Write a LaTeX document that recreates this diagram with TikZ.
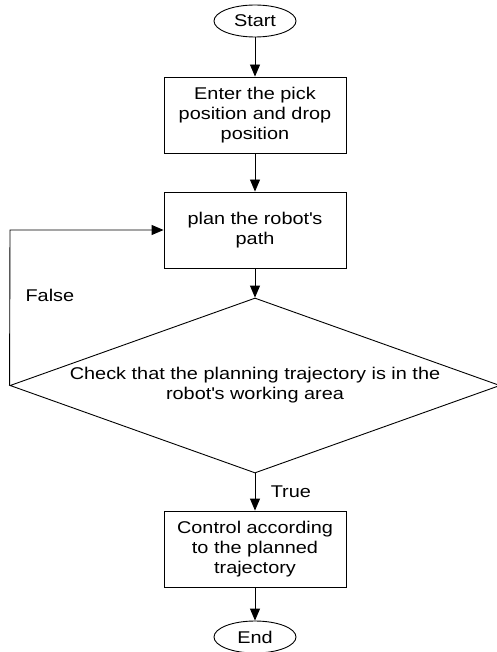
\documentclass[tikz,border=0pt]{standalone}
\usepackage{fontspec}
\setmainfont{Liberation Sans}[FakeStretch=1.17]
\usetikzlibrary{shapes.geometric, arrows.meta}
\tikzstyle{startstop} = [ellipse, minimum width=82pt, minimum height=32pt, inner sep=1pt, text centered, draw=black]
\tikzstyle{process} = [rectangle, minimum width=182pt, minimum height=76pt, text centered, align=center, draw=black]
\tikzstyle{decision} = [diamond, aspect=2.8, minimum width=490pt, minimum height=175pt, inner sep=0pt, text centered, align=center, draw=black]
\tikzstyle{arrow} = [->,>={Triangle[length=12pt,width=10pt]}]
\begin{document}
\begin{tikzpicture}[line width=0.9pt, font=\fontsize{17pt}{20pt}\selectfont]
					\useasboundingbox (0,0) rectangle (497pt,-652pt);
					\node (start) [startstop] at (255pt,-21pt) {Start};
					\node (p1) [process, node distance=94pt, below of=start] {Enter the pick\\position and drop\\position};
					\node (p2) [process, node distance=115pt, below of=p1] {plan the robot\textquotesingle s\\path};
					\node (dec) [decision, node distance=155.5pt, below of=p2] {Check that the planning trajectory is in the\\robot\textquotesingle s working area};
					\node (p3) [process, node distance=163.5pt, below of=dec] {Control according\\to the planned\\trajectory};
					\node (end) [startstop, node distance=88pt, below of=p3] {End};
					\node (l1) [coordinate, node distance=245pt, left of=p2] {};
					\draw [arrow] (start)--(p1);
					\draw [arrow] (p1)--(p2);
					\draw [arrow] (p2)--(dec);
					\draw [arrow] (dec)--node[anchor=west, xshift=12pt] {True} (p3);
					\draw [arrow] (p3)--(end);
					\path[draw,arrow] (dec.west)--node[pos=0.58, anchor=west, xshift=12pt] {False}(l1)--(p2);
				\end{tikzpicture}
\end{document}
